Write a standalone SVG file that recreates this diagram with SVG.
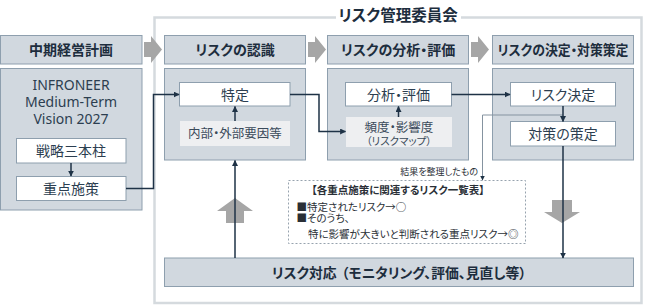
<svg xmlns="http://www.w3.org/2000/svg" width="645" height="307" viewBox="0 0 645 307">
<style>
.box{fill:#d1d8df;stroke:#8e9fae;stroke-width:1}
.wbox{fill:#fff;stroke:#8e9fae;stroke-width:1}
.lbox{fill:#eeeff1}
.h{font-family:"Noto Sans CJK JP","Noto Sans",sans-serif;font-weight:700;font-size:14px;fill:#1d2d3d;text-anchor:middle;font-feature-settings:"palt"}
.t{font-family:"Noto Sans CJK JP","Noto Sans",sans-serif;font-weight:400;font-size:14px;fill:#2c3e50;text-anchor:middle;font-feature-settings:"palt"}
.s{font-family:"Noto Sans CJK JP","Noto Sans",sans-serif;font-weight:400;font-size:10.5px;fill:#2a2f36;font-feature-settings:"palt"}
.con{fill:none;stroke:#1e3246;stroke-width:1.5}
.gcon{fill:none;stroke:#8593a0;stroke-width:1}
.garrow{fill:#a6a6a6}
</style>
<defs>
<marker id="ah" viewBox="0 0 10 10" refX="9" refY="5" markerWidth="4" markerHeight="4" orient="auto" markerUnits="strokeWidth"><path d="M0,0 L10,5 L0,10 z" fill="#1e3246"/></marker>
<marker id="gah" viewBox="0 0 10 10" refX="9" refY="5" markerWidth="5" markerHeight="5" orient="auto" markerUnits="strokeWidth"><path d="M0,0 L10,5 L0,10 z" fill="#1e3246"/></marker>
</defs>

<g id="committee-frame">
<path d="M336,17.5 H154.5 V303 H641.5 V17.5 H461" fill="none" stroke="#d5dade" stroke-width="2.5"/>
<text class="h" x="398" y="20.5" style="font-size:15.5px">リスク管理委員会</text>
</g>

<g id="stage-arrows">
<polygon class="garrow" points="144,42 151,42 151,36 162,49.5 151,63 151,57 144,57"/>
<polygon class="garrow" points="308,42 315,42 315,36 326,49.5 315,63 315,57 308,57"/>
<polygon class="garrow" points="471,42 478,42 478,36 489,49.5 478,63 478,57 471,57"/>
<polygon class="garrow" points="217,211 235,198 253,211 244,211 244,223 226,223 226,211"/>
<polygon class="garrow" points="552,200 572,200 572,212 580,212 562,223 544,212 552,212"/>
</g>

<g id="h-plan"><rect class="box" x="0.5" y="35.5" width="141.5" height="28.5"/><text class="h" x="71" y="55">中期経営計画</text></g>
<g id="h-recognition"><rect class="box" x="164.5" y="35.5" width="141" height="28.5"/><text class="h" x="235" y="55">リスクの認識</text></g>
<g id="h-analysis"><rect class="box" x="327.5" y="35.5" width="141" height="28.5"/><text class="h" x="398" y="55">リスクの分析・評価</text></g>
<g id="h-decision"><rect class="box" x="492.5" y="35.5" width="141" height="28.5"/><text class="h" x="563" y="54.8" style="font-size:13.5px" textLength="131" lengthAdjust="spacingAndGlyphs">リスクの決定・対策策定</text></g>

<g id="c-plan">
<rect class="box" x="0.5" y="68.5" width="141.5" height="141.5"/>
<text class="t" x="71" y="90" style="font-family:'Noto Sans',sans-serif">INFRONEER</text>
<text class="t" x="71" y="107" style="font-family:'Noto Sans',sans-serif">Medium-Term</text>
<text class="t" x="71" y="124" style="font-family:'Noto Sans',sans-serif">Vision 2027</text>
</g>
<g id="c-recognition"><rect class="box" x="164.5" y="68.5" width="141" height="91.5"/></g>
<g id="c-analysis"><rect class="box" x="327.5" y="68.5" width="141" height="91.5"/></g>
<g id="c-decision"><rect class="box" x="492.5" y="68.5" width="141" height="91.5"/></g>

<g id="pillars"><rect class="wbox" x="16.5" y="138.5" width="109.5" height="24.5"/><text class="t" x="71" y="156">戦略三本柱</text></g>
<g id="measures"><rect class="wbox" x="16.5" y="176.5" width="109.5" height="24"/><text class="t" x="71" y="194">重点施策</text></g>
<g id="identify"><rect class="wbox" x="179.5" y="82.5" width="110.5" height="23.5"/><text class="t" x="235" y="99.5">特定</text></g>
<g id="factors"><rect class="lbox" x="180" y="121" width="110" height="25"/><text class="t" x="235" y="138.3" style="font-size:12.5px;fill:#3a4a5a">内部・外部要因等</text></g>
<g id="analyze"><rect class="wbox" x="345.5" y="82.5" width="106" height="23.5"/><text class="t" x="398.5" y="99.5">分析・評価</text></g>
<g id="frequency"><rect class="lbox" x="346" y="117" width="106" height="30"/><text class="t" x="399" y="131.5" style="font-size:12.5px;fill:#3a4a5a">頻度・影響度</text><text class="t" x="399" y="144.5" style="font-size:10.5px;fill:#3a4a5a">（リスクマップ）</text></g>
<g id="decide"><rect class="wbox" x="510.5" y="82.5" width="105" height="23.5"/><text class="t" x="563" y="99.5">リスク決定</text></g>
<g id="plan"><rect class="wbox" x="510.5" y="121.5" width="105" height="24.5"/><text class="t" x="563" y="139">対策の策定</text></g>

<g id="risk-list">
<rect x="288.5" y="180.5" width="237" height="63" fill="#fff" stroke="#97a3ae" stroke-width="1" stroke-dasharray="2 2"/>
<text class="s" x="398" y="194" style="font-weight:700;text-anchor:middle">【各重点施策に関連するリスク一覧表】</text>
<text class="s" x="296.5" y="211">■特定されたリスク→○</text>
<text class="s" x="296.5" y="221.5">■そのうち、</text>
<text class="s" x="308" y="238">特に影響が大きいと判断される重点リスク→◎</text>
</g>

<g id="response"><rect class="box" x="164.5" y="258" width="469" height="28.5"/><text class="h" x="399" y="277.5" style="font-size:13.8px">リスク対応<tspan dx="5">（モニタリング、評価、見直し等）</tspan></text></g>

<g id="connectors">
<line class="con" x1="71" y1="163" x2="71" y2="176" marker-end="url(#ah)"/>
<path class="con" d="M126,188.5 H153.5 V94.5 H179" marker-end="url(#ah)"/>
<line class="con" x1="235" y1="121" x2="235" y2="106.5" marker-end="url(#ah)"/>
<path class="con" d="M290,94.5 H319 V131.5 H345.5" marker-end="url(#ah)"/>
<line class="con" x1="398.5" y1="117" x2="398.5" y2="106.5" marker-end="url(#ah)"/>
<line class="con" x1="451.5" y1="94.5" x2="510" y2="94.5" marker-end="url(#ah)"/>
<path class="gcon" d="M563,115 H482.5 V180" marker-end="url(#gah)"/>
<line class="con" x1="563" y1="106" x2="563" y2="121.5" marker-end="url(#ah)"/>
<line class="con" x1="563" y1="146" x2="563" y2="258" marker-end="url(#ah)"/>
<line class="con" x1="235" y1="258" x2="235" y2="160.5" marker-end="url(#ah)"/>
<text class="s" x="478" y="174.5" style="font-size:9px;text-anchor:end">結果を整理したもの</text>
</g>
</svg>
